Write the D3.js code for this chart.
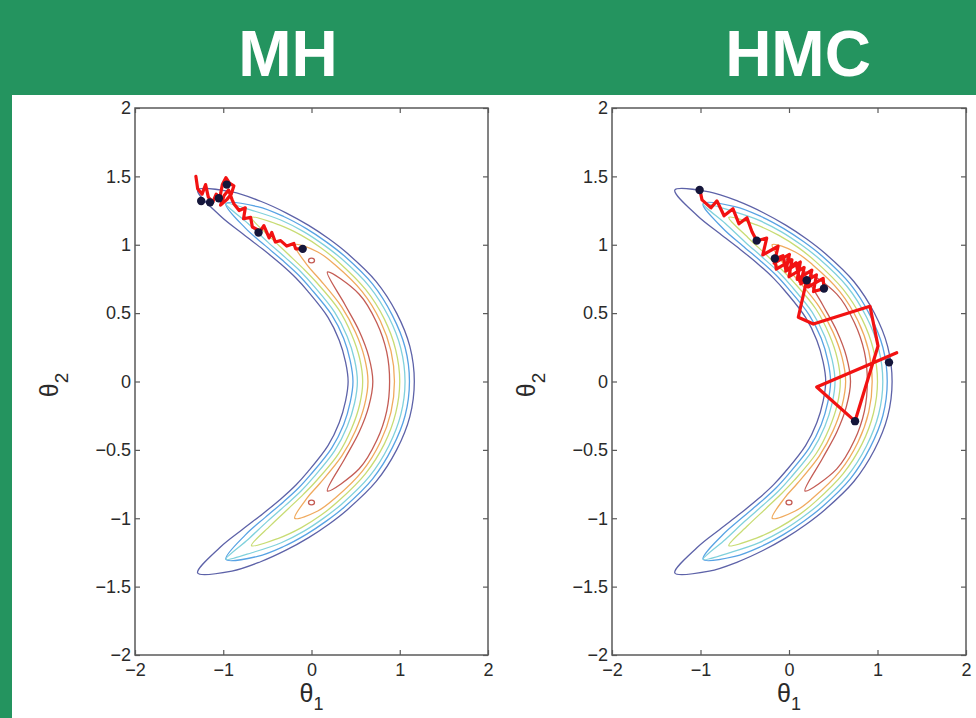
<!DOCTYPE html>
<html>
<head>
<meta charset="utf-8">
<script src="https://cdn.jsdelivr.net/npm/d3@7"></script>
<style>
  body { margin: 0; background: #fff; }
  svg { display: block; }
  text { font-family: "Liberation Sans", Arial, Helvetica, sans-serif; }
</style>
</head>
<body>
<svg id="chart" width="976" height="718"></svg>
<script>
'use strict'

// axis ticks
const xTicks = [-2, -1, 0, 1, 2];
const yTicks = [-2, -1.5, -1, -0.5, 0, 0.5, 1, 1.5, 2];

// banana ridge (upper half, mirrored for the lower half)
const ridgeT2 = [0, 0.2, 0.4, 0.6, 0.8, 0.9, 1.0, 1.1, 1.2, 1.3, 1.4];
const ridgeT1 = [0.79, 0.75, 0.64, 0.46, 0.18, 0.01, -0.19, -0.42, -0.68, -0.97, -1.29];

// contour levels, outer to inner: half width across the ridge at each ridge station
const levelColors = ['#5d62a8', '#58a3e4', '#80d1dc', '#c8dc74', '#f0aa5e', '#c45c54'];
const levelWidths = [
    [0.375, 0.375, 0.36, 0.34, 0.31, 0.29, 0.27, 0.245, 0.21, 0.15, 0],
    [0.32, 0.32, 0.305, 0.29, 0.265, 0.245, 0.225, 0.195, 0.14, 0],
    [0.27, 0.27, 0.26, 0.245, 0.22, 0.2, 0.18, 0.145, 0.08, 0],
    [0.21, 0.21, 0.205, 0.19, 0.17, 0.155, 0.13, 0.085, 0],
    [0.15, 0.155, 0.155, 0.145, 0.12, 0.095, 0],
    [0.095, 0.105, 0.11, 0.10, 0]
];
const islands = [[0.0, 0.885], [0.0, -0.885]];

// Metropolis-Hastings chain
const mhPath = [
    [-1.31, 1.50], [-1.29, 1.41], [-1.24, 1.37], [-1.20, 1.44], [-1.17, 1.35],
    [-1.12, 1.31], [-1.08, 1.37], [-1.04, 1.34], [-1.01, 1.44], [-0.97, 1.49],
    [-0.93, 1.45], [-0.88, 1.43], [-0.91, 1.37], [-0.96, 1.33], [-1.03, 1.29],
    [-0.99, 1.36], [-0.94, 1.40], [-0.90, 1.33], [-0.88, 1.30], [-0.82, 1.25],
    [-0.75, 1.27], [-0.77, 1.19], [-0.69, 1.20], [-0.67, 1.13], [-0.58, 1.10],
    [-0.54, 1.14], [-0.48, 1.05], [-0.45, 1.09], [-0.41, 1.02], [-0.35, 1.03],
    [-0.28, 0.99], [-0.20, 1.01], [-0.18, 0.97], [-0.09, 0.97]
];
const mhSamples = [
    [-1.25, 1.32], [-1.15, 1.31], [-1.05, 1.34], [-0.96, 1.44], [-0.60, 1.09], [-0.10, 0.97]
];

// Hamiltonian Monte Carlo chain
const hmcPath = [
    [-1.006, 1.399], [-0.983, 1.328], [-0.881, 1.270], [-0.814, 1.321], [-0.734, 1.212],
    [-0.633, 1.263], [-0.565, 1.153], [-0.475, 1.197], [-0.418, 1.095], [-0.365, 1.029],
    [-0.252, 1.049], [-0.296, 0.926], [-0.123, 0.989], [-0.167, 0.866], [0.005, 0.929],
    [-0.037, 0.807], [0.128, 0.874], [0.093, 0.747], [0.258, 0.814], [0.215, 0.691],
    [0.386, 0.754], [0.395, 0.679], [0.277, 0.658], [0.310, 0.780], [0.133, 0.714],
    [0.171, 0.834], [0.0, 0.766], [0.033, 0.889], [-0.144, 0.822], [-0.158, 0.896],
    [-0.068, 0.920], [-0.034, 0.810], [0.079, 0.869], [0.124, 0.730], [0.200, 0.742],
    [0.105, 0.47], [0.275, 0.42], [0.915, 0.55], [1.006, 0.26], [0.746, -0.29],
    [0.313, -0.04], [1.217, 0.21]
];
const hmcSamples = [
    [-1.01, 1.40], [-0.365, 1.03], [-0.16, 0.90], [0.20, 0.74], [0.395, 0.68], [1.13, 0.14], [0.746, -0.29]
];

const panels = [
    { title: 'MH', titleX: 288, left: 135, right: 488, path: mhPath, samples: mhSamples },
    { title: 'HMC', titleX: 798, left: 612, right: 966, path: hmcPath, samples: hmcSamples }
];

const svg = d3.select('#chart');
const green = '#24945f';

// background: green header and left strip
svg.append('rect').attr('x', 0).attr('y', 0).attr('width', 976).attr('height', 718).attr('fill', '#fff');
svg.append('rect').attr('x', 0).attr('y', 0).attr('width', 976).attr('height', 95).attr('fill', green);
svg.append('rect').attr('x', 0).attr('y', 0).attr('width', 12).attr('height', 718).attr('fill', green);

const plotTop = 108, plotBottom = 655;

function contourPoints(widths, x, y) {
    const tip = widths.length - 1;
    const st = [];
    for (let i = tip; i >= 1; i--) st.push([ridgeT1[i], ridgeT2[i], widths[i]]);
    st.push([ridgeT1[0], 0, widths[0]]);
    for (let i = 1; i <= tip; i++) st.push([ridgeT1[i], -ridgeT2[i], widths[i]]);

    const unit = x(1) - x(0);
    const pts = st.map(d => [x(d[0]), y(d[1])]);
    const sideA = [], sideB = [];
    pts.forEach((p, k) => {
        const a = pts[Math.max(0, k - 1)], b = pts[Math.min(pts.length - 1, k + 1)];
        const tx = b[0] - a[0], ty = b[1] - a[1];
        const len = Math.hypot(tx, ty);
        const nx = -ty / len, ny = tx / len;
        const w = st[k][2] * unit;
        sideA.push([p[0] + nx * w, p[1] + ny * w]);
        sideB.push([p[0] - nx * w, p[1] - ny * w]);
    });
    return sideA.concat(sideB.slice(1, -1).reverse());
}

panels.forEach(p => {
    const x = d3.scaleLinear().domain([-2, 2]).range([p.left, p.right]);
    const y = d3.scaleLinear().domain([-2, 2]).range([plotBottom, plotTop]);
    const g = svg.append('g');

    // title
    svg.append('text')
        .attr('x', p.titleX).attr('y', 76)
        .attr('text-anchor', 'middle')
        .attr('fill', '#fff')
        .style('font-size', '64px')
        .style('font-weight', 'bold')
        .text(p.title);

    // contours
    const closed = d3.line().curve(d3.curveCatmullRomClosed.alpha(0.5));
    levelWidths.forEach((w, i) => {
        g.append('path')
            .attr('d', closed(contourPoints(w, x, y)))
            .attr('fill', 'none')
            .attr('stroke', levelColors[i])
            .attr('stroke-width', 1.3);
    });
    g.selectAll('.island')
        .data(islands)
        .enter().append('ellipse')
        .attr('cx', d => x(d[0]))
        .attr('cy', d => y(d[1]))
        .attr('rx', 3).attr('ry', 2.4)
        .attr('fill', 'none')
        .attr('stroke', levelColors[5])
        .attr('stroke-width', 1.3);

    // chain path and samples
    g.append('path')
        .attr('d', d3.line().x(d => x(d[0])).y(d => y(d[1]))(p.path))
        .attr('fill', 'none')
        .attr('stroke', '#f21212')
        .attr('stroke-width', 3.2)
        .attr('stroke-linejoin', 'round')
        .attr('stroke-linecap', 'round');
    g.selectAll('.sample')
        .data(p.samples)
        .enter().append('circle')
        .attr('cx', d => x(d[0]))
        .attr('cy', d => y(d[1]))
        .attr('r', 4.2)
        .attr('fill', '#15163a');

    // axes, matlab style box with inward ticks
    const fmt = d3.format('~g');
    const axisColor = '#5a5a5a';
    const styleAxis = sel => {
        sel.select('.domain').remove();
        sel.selectAll('.tick line').attr('stroke', axisColor).attr('stroke-width', 1.2);
        sel.selectAll('.tick text').attr('fill', '#2a2a2a').style('font-size', '18px');
    };
    svg.append('g').attr('transform', `translate(0,${plotBottom})`)
        .call(d3.axisBottom(x).tickValues(xTicks).tickFormat(fmt).tickSize(-5).tickPadding(8))
        .call(styleAxis);
    svg.append('g').attr('transform', `translate(0,${plotTop})`)
        .call(d3.axisTop(x).tickValues(xTicks).tickFormat('').tickSize(-5))
        .call(styleAxis);
    svg.append('g').attr('transform', `translate(${p.left},0)`)
        .call(d3.axisLeft(y).tickValues(yTicks).tickFormat(fmt).tickSize(-5).tickPadding(4))
        .call(styleAxis);
    svg.append('g').attr('transform', `translate(${p.right},0)`)
        .call(d3.axisRight(y).tickValues(yTicks).tickFormat('').tickSize(-5))
        .call(styleAxis);
    svg.append('rect')
        .attr('x', p.left).attr('y', plotTop)
        .attr('width', p.right - p.left).attr('height', plotBottom - plotTop)
        .attr('fill', 'none')
        .attr('stroke', axisColor)
        .attr('stroke-width', 1.5);

    // axis labels
    const xl = svg.append('text')
        .attr('x', (p.left + p.right) / 2).attr('y', 702)
        .attr('text-anchor', 'middle')
        .attr('fill', '#2a2a2a');
    xl.append('tspan').style('font-size', '25px').text('θ');
    xl.append('tspan').attr('dy', 8).style('font-size', '18px').text('1');

    const yl = svg.append('text')
        .attr('transform', `translate(${p.left - 77},385) rotate(-90)`)
        .attr('text-anchor', 'middle')
        .attr('fill', '#2a2a2a');
    yl.append('tspan').style('font-size', '25px').text('θ');
    yl.append('tspan').attr('dy', 10).style('font-size', '19px').text('2');
});
</script>
</body>
</html>
